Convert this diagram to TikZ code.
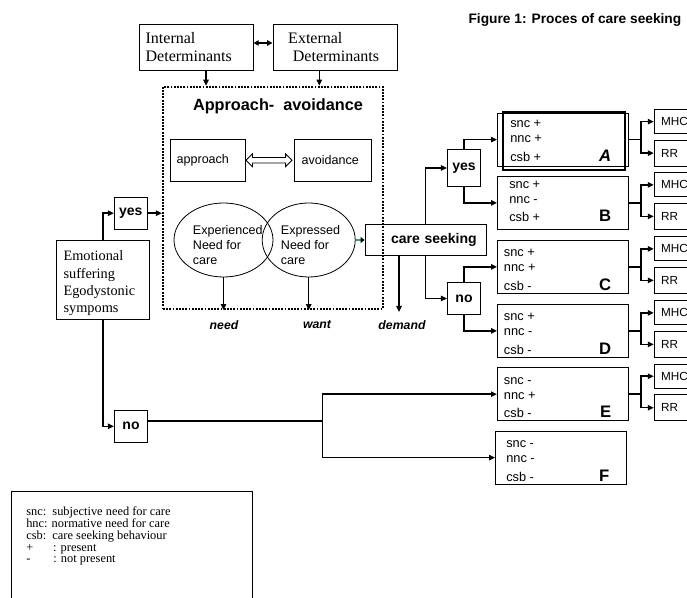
\documentclass[tikz,border=0pt]{standalone}
\usepackage{fontspec}
\setmainfont{Liberation Serif}
\setsansfont{Liberation Sans}
\usetikzlibrary{arrows.meta,shapes.geometric,shapes.arrows}
\definecolor{careseek}{RGB}{46,160,120}
\tikzset{
  box/.style={draw, line width=0.6pt, inner sep=0pt},
  conn/.style={line width=1.1pt, -{Triangle[length=4.5pt,width=4pt]}},
  fork/.style={line width=1.1pt},
  dots/.style={draw, line width=1.6pt, dash pattern=on 1.4pt off 1pt},
  det/.style={font=\fontsize{12}{13.5}\selectfont},
  emotxt/.style={font=\fontsize{10.75}{13}\selectfont},
  sans/.style={font=\sffamily\fontsize{9.4}{11.25}\selectfont},
  head/.style={font=\sffamily\bfseries\fontsize{12.2}{14}\selectfont},
  bsans/.style={font=\sffamily\bfseries\fontsize{10.5}{12}\selectfont},
  lab/.style={font=\sffamily\bfseries\itshape\fontsize{9.2}{11}\selectfont},
  state/.style={font=\sffamily\fontsize{9.6}{11}\selectfont, inner sep=0pt},
  letter/.style={font=\sffamily\bfseries\fontsize{12.5}{14}\selectfont, inner sep=0pt},
  small/.style={font=\sffamily\fontsize{8.8}{10}\selectfont},
  keytxt/.style={font=\fontsize{9.3}{8.9}\selectfont},
  title/.style={font=\sffamily\bfseries\fontsize{10.3}{12}\selectfont},
  greenarrow/.style={line width=2pt, draw=careseek, -{Triangle[length=3pt,width=4.5pt,color=black]}}
}
\begin{document}
\begin{tikzpicture}[x=0.75pt,y=-0.75pt]
\path[use as bounding box] (0,0) rectangle (687,598);
\clip (0,0) rectangle (687,598);
\node[title, anchor=east] (fig) at (686,20) {Figure 1: Proces of care seeking};

\node[box, det, text width=75.5pt, inner xsep=5pt, minimum height=34.5pt, align=left] (intd) at (196,47) {Internal\\Determinants};
\node[box, det, text width=70pt, inner xsep=11.5pt, minimum height=34.5pt, align=left] (extd) at (334.9,47) {External\\\hspace*{3.5pt}Determinants};
\draw[conn, {Triangle[length=4pt,width=4pt]}-{Triangle[length=4pt,width=4pt]}] ([yshift=3pt]intd.east) -- ([yshift=3pt]extd.west);

\node[dots, minimum width=165pt, minimum height=166.7pt] (aa) at (273,197.9) {};
\node[head] (aatitle) at (278,106.7) {Approach-\ \ avoidance};
\draw[conn] ([xshift=7.5pt]intd.south) -- ([xshift=7.5pt]intd.south |- aa.north);
\draw[conn] ([xshift=-11.7pt]extd.south) -- ([xshift=-11.7pt]extd.south |- aa.north);

\node[box, sans, text width=46.8pt, inner xsep=5pt, minimum height=31.3pt, align=left] (appr) at (207.9,160.2) {approach};
\node[box, sans, text width=47pt, inner xsep=5.5pt, minimum height=32pt, align=left] (avoid) at (333,160.3) {avoidance};
\node[draw, line width=0.6pt, double arrow, fill=white, minimum height=34.5pt, minimum width=9pt, inner sep=1.75pt, double arrow head extend=2.75pt] (swap) at (269,160.2) {};

\node[box, ellipse, minimum width=74.25pt, minimum height=55.5pt] (exper) at (223.5,240) {};
\node[box, ellipse, minimum width=69.75pt, minimum height=55.5pt] (expr) at (308.7,240) {};
\node[sans, align=left, anchor=west, inner sep=0pt] (expertx) at (192.7,245) {Experienced\\Need for\\care};
\node[sans, align=left, anchor=west, inner sep=0pt] (exprtx) at (280.7,245) {Expressed\\Need for\\care};
\draw[conn] (exper.south) -- (exper.south |- aa.south);
\draw[conn] (expr.south) -- (expr.south |- aa.south);
\node[lab] (need) at (224,325) {need};
\node[lab] (want) at (317,325) {want};
\node[lab] (demand) at (402,325) {demand};

\node[box, bsans, text width=76.75pt, inner xsep=7pt, minimum height=23.5pt, align=right] (care) at (425.5,240) {care seeking};
\draw[greenarrow] (expr.east) -- (care.west);
\coordinate (demtip) at (399,312);
\draw[conn] (care.south -| demtip) -- (demtip);

\node[box, bsans, minimum width=25pt, minimum height=28pt] (yes2) at (464,168) {yes};
\node[box, bsans, minimum width=25pt, minimum height=23.5pt] (no2) at (464,298.5) {no};
\draw[conn] (care.north) |- (yes2);
\draw[conn] (care.south) |- (no2);

\node[box, minimum width=69.2pt, minimum height=59.5pt] (emo) at (102.85,279.65) {};
\node[emotxt, align=left, anchor=base west, inner sep=0pt] (emotx) at (63.3,313) {Emotional\\suffering\\Egodystonic\\sympoms};
\node[box, bsans, minimum width=24.75pt, minimum height=23.8pt] (yes1) at (130.8,213.2) {yes};
\node[box, bsans, minimum width=25pt, minimum height=24pt] (no1) at (131,426.3) {no};
\draw[conn] (emo.north) |- (yes1);
\draw[conn] (yes1) -- (yes1 -| aa.west);
\draw[conn] (emo.south) |- (no1);

\foreach \n/\bx/\t/\dx/\dy/\s/\m/\c/\l in {A/497/112.7/13/15/+/+/+/\itshape A, B/497/176/12/12.5/+/-/+/B, C/497/240/6.7/17/+/+/-/C, D/497/304/6.7/17/+/-/-/D, E/497/367.3/6.7/17/-/+/-/E, F/495/430.7/11/17/-/-/-/F}{
  \node[box, minimum width=98.25pt, minimum height=39.75pt, anchor=north west] (\n) at (\bx,\t) {};
  \node[state, anchor=base west] (\n-snc) at ([shift={(\dx,\dy)}]\n.north west) {snc \s};
  \node[state, anchor=base west] (\n-nnc) at ([shift={(0,15)}]\n-snc.base west) {nnc \m};
  \node[state, anchor=base west] (\n-csb) at ([shift={(0,33.5)}]\n-snc.base west) {csb \c};
  \node[letter, anchor=base east, xshift=-13pt] (\n-id) at (\n-csb.base -| \n.east) {\l};
}
\draw[line width=1.2pt] ([shift={(6,-0.7)}]A.north west) rectangle ([shift={(-4,3.6)}]A.south east);

\draw[conn] (yes2.north) |- (A);
\draw[conn] (yes2.south) |- (B);
\draw[conn] (no2.north) |- (C);
\draw[conn] (no2.south) |- (D);

\foreach \n in {A,B,C,D,E}{
  \node[box, small, text width=40pt, inner xsep=5.25pt, minimum height=18pt, align=left, anchor=west] (\n-mhc) at ([shift={(25,-18)}]\n.east) {MHC};
  \node[box, small, text width=40pt, inner xsep=5.25pt, minimum height=19.5pt, align=left, anchor=west] (\n-rr) at ([shift={(25,13.5)}]\n.east) {RR};
  \coordinate (\n-fork) at ([xshift=9pt]\n.east);
  \draw[fork] (\n.east) -- (\n-fork);
  \draw[conn] (\n-fork) |- (\n-mhc);
  \draw[conn] (\n-fork) |- (\n-rr);
}

\coordinate (nosplit) at (322.3,421);
\draw[fork] (no1.east |- nosplit) -- (nosplit);
\draw[conn] (nosplit) |- (E);
\draw[conn] (nosplit) |- (F);

\node[box, line width=1pt, minimum width=180.75pt, minimum height=82pt, anchor=north west] (key) at (10.7,490.7) {};
\node[keytxt, align=left, anchor=base west, inner sep=0pt] (keytx) at (26,563) {snc:\ \ subjective need for care\\hnc: normative need for care\\csb:\ \ care seeking behaviour\\+\hspace{1.6em}: present\\-\hspace{1.85em}: not present};
\end{tikzpicture}
\end{document}
